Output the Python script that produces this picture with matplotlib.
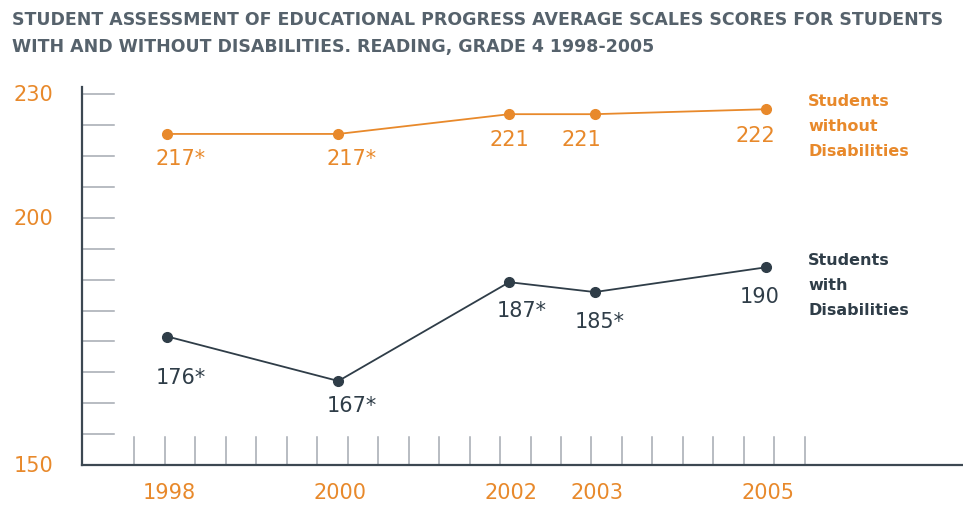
import numpy as np
import matplotlib.pyplot as plt

years = [1998, 2000, 2002, 2003, 2005]
without_dis = [217, 217, 221, 221, 222]
with_dis = [176, 167, 187, 185, 190]
without_labels = ['217*', '217*', '221', '221', '222']
with_labels = ['176*', '167*', '187*', '185*', '190']
ytick_vals = [150, 200, 225]
ytick_text = ['150', '200', '230']

orange = '#e8892b'
dark = '#2f3d48'
axis_col = '#3c4852'
tick_col = '#a4aab2'
title_col = '#56626c'

plt.rcParams['font.family'] = ['DejaVu Sans']

fig = plt.figure(figsize=(9.63, 5.06), dpi=100)
ax = fig.add_axes([82/963, 1 - 466/506, 1 - 82/963, (466 - 88)/506])
ax.set_xlim(1997.0, 2007.31)
ax.set_ylim(150, 226.5)

for s in ['top', 'right']:
    ax.spines[s].set_visible(False)
ax.spines['left'].set_color(axis_col)
ax.spines['bottom'].set_color(axis_col)
ax.spines['left'].set_linewidth(1.6)
ax.spines['bottom'].set_linewidth(1.6)
ax.tick_params(length=0)
ax.set_xticks([])
ax.set_yticks([])

# decorative tick marks inside the axes
for yv in np.arange(150 + 6.25, 226, 6.25):
    ax.plot([0, 0.036], [yv, yv], transform=ax.get_yaxis_transform(),
            color=tick_col, lw=1.1, clip_on=False)
for xv in np.linspace(1997.61, 2005.46, 23):
    ax.plot([xv, xv], [0, 0.075], transform=ax.get_xaxis_transform(),
            color=tick_col, lw=1.1, clip_on=False)

ax.plot(years, without_dis, color=orange, lw=1.3, marker='o', ms=7, zorder=3)
ax.plot(years, with_dis, color=dark, lw=1.3, marker='o', ms=7, zorder=3)

up_off = [(13, -24), (13, -24), (0, -25), (-13, -25), (-10, -26)]
low_off = [(13, -40), (13, -24), (12, -28), (5, -29), (-6, -29)]
for x, y, t, o in zip(years, without_dis, without_labels, up_off):
    ax.annotate(t, (x, y), xytext=o, textcoords='offset pixels',
                ha='center', va='center', fontsize=15, color=orange)
for x, y, t, o in zip(years, with_dis, with_labels, low_off):
    ax.annotate(t, (x, y), xytext=o, textcoords='offset pixels',
                ha='center', va='center', fontsize=15, color=dark)

for v, t in zip(ytick_vals, ytick_text):
    ax.text(-0.055, v, t, transform=ax.get_yaxis_transform(), ha='center',
            va='center', fontsize=15, color=orange)
for x in years:
    ax.annotate(str(x), (x, 150), xytext=(2, -27), textcoords='offset pixels',
                ha='center', va='center', fontsize=15, color=orange,
                annotation_clip=False)

fig.text(808/963, 1 - 94/506, 'Students\nwithout\nDisabilities', ha='left',
         va='top', fontsize=11.5, color=orange, fontweight='bold',
         linespacing=1.85)
fig.text(808/963, 1 - 253/506, 'Students\nwith\nDisabilities', ha='left',
         va='top', fontsize=11.5, color=dark, fontweight='bold',
         linespacing=1.85)

fig.text(12/963, 1 - 11/506,
         'STUDENT ASSESSMENT OF EDUCATIONAL PROGRESS AVERAGE SCALES SCORES FOR STUDENTS\n'
         'WITH AND WITHOUT DISABILITIES. READING, GRADE 4 1998-2005',
         ha='left', va='top', fontsize=12.5, color=title_col,
         fontweight='bold', linespacing=1.65)

fig.savefig('out.png', dpi=100)
